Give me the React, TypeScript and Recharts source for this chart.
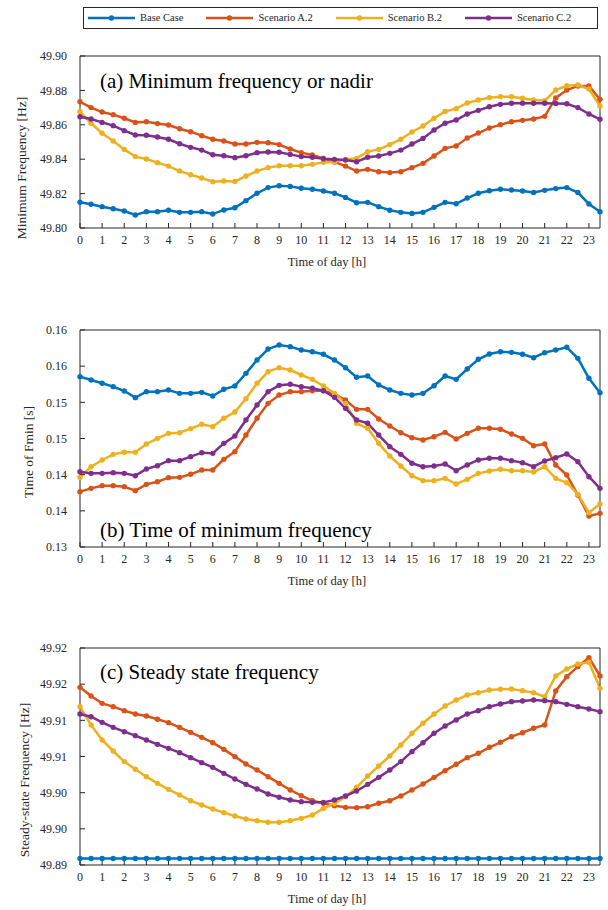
import { Line, LineChart, XAxis, YAxis } from 'recharts'

const FONT = "'Liberation Serif', 'Times New Roman', serif"
const INK = '#262626'

const hours = [
	0, 0.5, 1, 1.5, 2, 2.5, 3, 3.5, 4, 4.5, 5, 5.5, 6, 6.5, 7, 7.5, 8, 8.5, 9, 9.5, 10, 10.5, 11, 11.5,
	12, 12.5, 13, 13.5, 14, 14.5, 15, 15.5, 16, 16.5, 17, 17.5, 18, 18.5, 19, 19.5, 20, 20.5, 21, 21.5, 22, 22.5, 23, 23.5,
]
const hourTicks = [0, 1, 2, 3, 4, 5, 6, 7, 8, 9, 10, 11, 12, 13, 14, 15, 16, 17, 18, 19, 20, 21, 22, 23]

// (a) minimum frequency / nadir [Hz]
const nadirBase = [
	49.815, 49.8138, 49.8124, 49.8112, 49.8099, 49.8076, 49.8095, 49.8095, 49.8103, 49.8091, 49.8091, 49.8095,
	49.8081, 49.8105, 49.8118, 49.8159, 49.8202, 49.8235, 49.8246, 49.8242, 49.8231, 49.8225, 49.8215, 49.8202,
	49.8178, 49.8147, 49.8149, 49.8124, 49.8103, 49.8091, 49.8085, 49.8091, 49.812, 49.8149, 49.8141, 49.8174,
	49.8202, 49.8217, 49.8225, 49.8221, 49.8215, 49.8207, 49.8219, 49.8229, 49.8235, 49.8206, 49.814, 49.8095,
]
const nadirA = [
	49.8734, 49.87, 49.8674, 49.8659, 49.8638, 49.8614, 49.8618, 49.8607, 49.8599, 49.8577, 49.856, 49.8537,
	49.8516, 49.8506, 49.8488, 49.8488, 49.8498, 49.8496, 49.8485, 49.8459, 49.8438, 49.8424, 49.8405, 49.8384,
	49.836, 49.8331, 49.8341, 49.8327, 49.8322, 49.8327, 49.8351, 49.8376, 49.8419, 49.8463, 49.8477, 49.8523,
	49.8552, 49.8581, 49.8601, 49.8618, 49.8626, 49.8634, 49.8649, 49.8756, 49.8802, 49.8826, 49.8826, 49.8748,
]
const nadirB = [
	49.8676, 49.8609, 49.8551, 49.8506, 49.8457, 49.8415, 49.8401, 49.838, 49.836, 49.8331, 49.831, 49.8291,
	49.8269, 49.8273, 49.8271, 49.8302, 49.8331, 49.8351, 49.8362, 49.8362, 49.8362, 49.837, 49.8382, 49.8384,
	49.8399, 49.8405, 49.8444, 49.8457, 49.8485, 49.8516, 49.8558, 49.8593, 49.8638, 49.8678, 49.8694, 49.8727,
	49.8744, 49.8758, 49.8763, 49.8763, 49.8754, 49.8744, 49.874, 49.8802, 49.8827, 49.8831, 49.8808, 49.8709,
]
const nadirC = [
	49.8647, 49.8634, 49.8614, 49.8595, 49.8566, 49.8541, 49.8539, 49.8529, 49.8516, 49.849, 49.8469, 49.8453,
	49.8426, 49.842, 49.8409, 49.842, 49.8438, 49.8442, 49.844, 49.8428, 49.8415, 49.8411, 49.8403, 49.8399,
	49.8395, 49.8385, 49.8411, 49.8419, 49.8434, 49.8453, 49.8488, 49.8521, 49.857, 49.8609, 49.8628, 49.8663,
	49.8684, 49.8705, 49.8719, 49.8725, 49.8726, 49.8725, 49.8725, 49.8724, 49.8722, 49.87, 49.8663, 49.8632,
]

// (b) time of minimum frequency [s]
const tminBase = [
	0.15355, 0.15309, 0.15263, 0.15217, 0.15157, 0.15065, 0.15148, 0.15148, 0.15171, 0.15124, 0.15124, 0.15138,
	0.15088, 0.1518, 0.15226, 0.15401, 0.15585, 0.15737, 0.15793, 0.1577, 0.15724, 0.157, 0.15664, 0.15585,
	0.15479, 0.15346, 0.15364, 0.1524, 0.15171, 0.15124, 0.15101, 0.15124, 0.1523, 0.15364, 0.15318, 0.15461,
	0.15595, 0.15668, 0.157, 0.15691, 0.15664, 0.15617, 0.15687, 0.15724, 0.15761, 0.15608, 0.15332, 0.15134,
]
const tminA = [
	0.13765, 0.13811, 0.13848, 0.13848, 0.13834, 0.13779, 0.13866, 0.13903, 0.13959, 0.13963, 0.14005, 0.14065,
	0.14065, 0.14212, 0.14318, 0.14548, 0.14779, 0.14986, 0.15101, 0.15148, 0.15148, 0.15161, 0.15161, 0.15115,
	0.15032, 0.14903, 0.14903, 0.1477, 0.14673, 0.1458, 0.14511, 0.14479, 0.14525, 0.14585, 0.14493, 0.14571,
	0.14641, 0.14641, 0.14627, 0.14562, 0.14502, 0.144, 0.14424, 0.14134, 0.13995, 0.13719, 0.13429, 0.13465,
]
const tminB = [
	0.13963, 0.1411, 0.14203, 0.14281, 0.14309, 0.14309, 0.14424, 0.14502, 0.14571, 0.1458, 0.14636, 0.14696,
	0.14664, 0.14779, 0.14866, 0.1505, 0.15263, 0.15424, 0.15479, 0.15447, 0.15378, 0.15318, 0.15226, 0.15124,
	0.14986, 0.1471, 0.14641, 0.14433, 0.14258, 0.1412, 0.13986, 0.13917, 0.13917, 0.13949, 0.13871, 0.13935,
	0.14018, 0.14051, 0.14074, 0.14055, 0.14055, 0.14037, 0.1411, 0.13949, 0.13889, 0.13728, 0.13475, 0.13594,
]
const tminC = [
	0.14041, 0.14018, 0.14018, 0.14028, 0.14018, 0.13986, 0.14078, 0.14124, 0.14194, 0.14194, 0.14249, 0.14304,
	0.14295, 0.14433, 0.14535, 0.14756, 0.14963, 0.15148, 0.15235, 0.15249, 0.15217, 0.15194, 0.15161, 0.15069,
	0.14917, 0.14756, 0.1471, 0.14548, 0.14387, 0.14281, 0.14157, 0.1411, 0.1412, 0.14147, 0.14055, 0.14134,
	0.14203, 0.14226, 0.14226, 0.14194, 0.14166, 0.1411, 0.14189, 0.14235, 0.14286, 0.1418, 0.13972, 0.13811,
]

// (c) steady state frequency [Hz]
const ssBase = [
	49.8909, 49.8909, 49.8909, 49.8909, 49.8909, 49.8909, 49.8909, 49.8909, 49.8909, 49.8909, 49.8909, 49.8909,
	49.8909, 49.8909, 49.8909, 49.8909, 49.8909, 49.8909, 49.8909, 49.8909, 49.8909, 49.8909, 49.8909, 49.8909,
	49.8909, 49.8909, 49.8909, 49.8909, 49.8909, 49.8909, 49.8909, 49.8909, 49.8909, 49.8909, 49.8909, 49.8909,
	49.8909, 49.8909, 49.8909, 49.8909, 49.8909, 49.8909, 49.8909, 49.8909, 49.8909, 49.8909, 49.8909, 49.8909,
]
const ssA = [
	49.91456, 49.91336, 49.91235, 49.91189, 49.91134, 49.91088, 49.9106, 49.91014, 49.90968, 49.90903, 49.90834, 49.90765,
	49.90691, 49.90599, 49.90498, 49.90396, 49.90313, 49.90221, 49.90129, 49.90037, 49.89959, 49.89889, 49.89853, 49.8982,
	49.89797, 49.89793, 49.89806, 49.89853, 49.89889, 49.89954, 49.90037, 49.9012, 49.90212, 49.90304, 49.90392, 49.90484,
	49.90544, 49.90627, 49.90696, 49.90774, 49.90829, 49.9089, 49.90935, 49.91406, 49.91604, 49.91742, 49.91866, 49.91613,
]
const ssB = [
	49.91189, 49.90935, 49.90728, 49.90576, 49.90429, 49.90323, 49.90221, 49.90129, 49.90046, 49.89968, 49.89889, 49.8983,
	49.89774, 49.89724, 49.89677, 49.89636, 49.89613, 49.8959, 49.8959, 49.89613, 49.89645, 49.89691, 49.89783, 49.8985,
	49.89945, 49.90074, 49.9023, 49.90369, 49.90507, 49.90659, 49.90821, 49.90959, 49.91088, 49.91198, 49.91281, 49.9135,
	49.91382, 49.91419, 49.91429, 49.91433, 49.9141, 49.91382, 49.91327, 49.91613, 49.9171, 49.91779, 49.91802, 49.91442,
]
const ssC = [
	49.91088, 49.9105, 49.90972, 49.90903, 49.90843, 49.90788, 49.90728, 49.90668, 49.90613, 49.90553, 49.90484, 49.90415,
	49.9035, 49.90267, 49.90189, 49.90115, 49.90051, 49.89982, 49.89936, 49.89899, 49.89876, 49.89866, 49.89866, 49.89899,
	49.89954, 49.90023, 49.90115, 49.90212, 49.90313, 49.90429, 49.90567, 49.90691, 49.90821, 49.90922, 49.91005, 49.91088,
	49.91134, 49.91189, 49.91226, 49.91258, 49.91267, 49.91281, 49.91272, 49.91258, 49.91221, 49.91189, 49.91157, 49.9112,
]

const nadirTicks = [49.8, 49.82, 49.84, 49.86, 49.88, 49.9]
const nadirTickLabels = ['49.80', '49.82', '49.84', '49.86', '49.88', '49.90']
const tminTicks = [0.13, 0.135, 0.14, 0.145, 0.15, 0.155, 0.16]
const tminTickLabels = ['0.13', '0.14', '0.14', '0.15', '0.15', '0.16', '0.16']
const ssTicks = [49.89, 49.895, 49.9, 49.905, 49.91, 49.915, 49.92]
const ssTickLabels = ['49.89', '49.90', '49.90', '49.91', '49.91', '49.92', '49.92']

const series = [
	{ key: 'base', name: 'Base Case', color: '#0072BD' },
	{ key: 'a', name: 'Scenario A.2', color: '#D95319' },
	{ key: 'b', name: 'Scenario B.2', color: '#EDB120' },
	{ key: 'c', name: 'Scenario C.2', color: '#7E2F8E' },
]

const toRows = (base, a, b, c) => hours.map((hour, i) => ({ hour, base: base[i], a: a[i], b: b[i], c: c[i] }))

const Panel = ({ rows, plotTop, plotBottom, domain, ticks, tickLabels, title, yLabel, yLabelX, yLabelY }) => {
	const chartTop = plotTop - 40
	// 40px for the x axis + 6px spare so the axis title's descenders are not clipped
	const height = plotBottom + 46 - chartTop
	const tickStyle = { fill: INK, fontSize: 12, fontFamily: FONT }

	return <>
		<div style={{ position: 'absolute', left: 0, top: chartTop }}>
			<LineChart width={608} height={height} data={rows} margin={{ top: 39, right: 7, bottom: 6, left: 0 }}>
				<XAxis xAxisId='b' dataKey='hour' type='number' domain={[0, 23.5]} ticks={hourTicks} interval={0}
							 height={40} tickSize={-5} tickMargin={12} stroke={INK} tick={tickStyle}
							 label={{ value: 'Time of day [h]', position: 'insideBottom', offset: 2, dx: -13, fill: INK, fontSize: 12.5, fontFamily: FONT }} />
				<XAxis xAxisId='t' orientation='top' dataKey='hour' type='number' domain={[0, 23.5]} ticks={hourTicks}
							 interval={0} height={1} tickSize={-5} tick={false} stroke={INK} />
				<YAxis yAxisId='l' type='number' domain={domain} ticks={ticks} interval={0} width={80} tickSize={-5}
							 tickMargin={18} stroke={INK} tick={tickStyle} tickFormatter={(v, i) => tickLabels[i]} />
				<YAxis yAxisId='r' orientation='right' type='number' domain={domain} ticks={ticks} interval={0} width={1}
							 tickSize={-5} tick={false} stroke={INK} />
				{
					series.map(s => <Line key={s.key} xAxisId='b' yAxisId='l' type='linear' dataKey={s.key} name={s.name}
																 stroke={s.color} strokeWidth={2.5} isAnimationActive={false}
																 dot={{ r: 2.7, fill: s.color, stroke: s.color, strokeWidth: 0 }} />)
				}
			</LineChart>
		</div>
		<div style={{ position: 'absolute', left: 100, top: plotTop + (title.top), fontSize: 21, lineHeight: '22px', color: '#000', whiteSpace: 'nowrap' }}>
			{title.text}
		</div>
		<div style={{
			position: 'absolute', left: yLabelX, top: yLabelY, transform: 'translate(-50%, -50%) rotate(-90deg)',
			fontSize: 13.5, color: INK, whiteSpace: 'nowrap', lineHeight: '14px',
		}}>
			{yLabel}
		</div>
	</>
}

const LegendBox = () => (
	<div style={{
		position: 'absolute', left: 83, top: 7, width: 515, height: 22, boxSizing: 'border-box',
		border: `1px solid ${INK}`, display: 'flex', alignItems: 'center', paddingLeft: 4, gap: 23, background: '#fff',
	}}>
		{
			series.map(s => <div key={s.key} style={{ display: 'flex', alignItems: 'center' }}>
				<svg width={47} height={8}>
					<line x1={0} y1={4} x2={47} y2={4} stroke={s.color} strokeWidth={2.5} />
					<circle cx={23.5} cy={4} r={2.7} fill={s.color} />
				</svg>
				<span style={{ marginLeft: 5, fontSize: 10.5, color: INK, lineHeight: '12px' }}>{s.name}</span>
			</div>)
		}
	</div>
)

export default function App() {
	return (
		<div style={{ position: 'absolute', left: 0, top: 0, width: 608, height: 910, background: '#fff', fontFamily: FONT }}>
			<LegendBox />
			<Panel rows={toRows(nadirBase, nadirA, nadirB, nadirC)} plotTop={56} plotBottom={228} domain={[49.8, 49.9]}
						 ticks={nadirTicks} tickLabels={nadirTickLabels}
						 title={{ text: '(a) Minimum frequency or nadir', top: 14 }}
						 yLabel='Minimum Frequency [Hz]' yLabelX={22} yLabelY={168} />
			<Panel rows={toRows(tminBase, tminA, tminB, tminC)} plotTop={330} plotBottom={547} domain={[0.13, 0.16]}
						 ticks={tminTicks} tickLabels={tminTickLabels}
						 title={{ text: '(b) Time of minimum frequency', top: 189 }}
						 yLabel='Time of Fmin [s]' yLabelX={29} yLabelY={452} />
			<Panel rows={toRows(ssBase, ssA, ssB, ssC)} plotTop={648} plotBottom={865} domain={[49.89, 49.92]}
						 ticks={ssTicks} tickLabels={ssTickLabels}
						 title={{ text: '(c) Steady state frequency', top: 13 }}
						 yLabel='Steady-state Frequency [Hz]' yLabelX={25} yLabelY={780} />
		</div>
	)
}
